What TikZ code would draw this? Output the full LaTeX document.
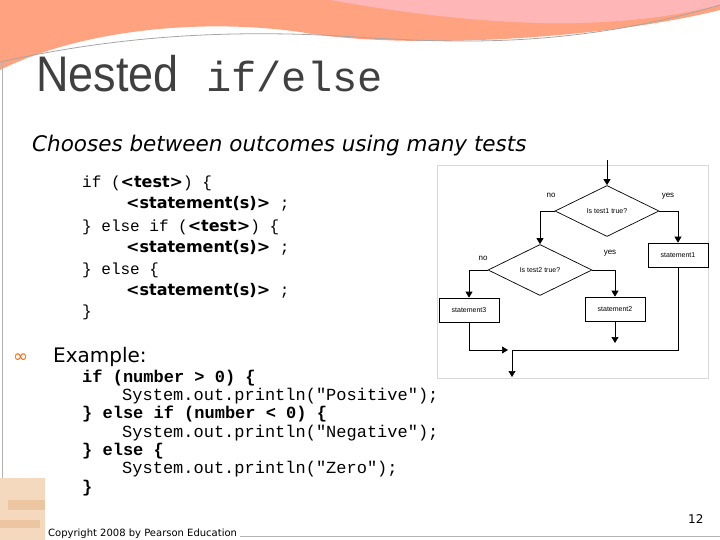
\documentclass[tikz,border=0pt]{standalone}
\usepackage{fontspec}
\setmainfont{DejaVu Sans}
\setmonofont{Liberation Mono}
\newfontfamily\cond{Liberation Sans}[FakeStretch=0.9]
\newfontfamily\ar{Liberation Sans}
\newfontfamily\dv{DejaVu Sans}
\usetikzlibrary{arrows.meta,shapes.geometric}
\definecolor{ttl}{HTML}{404040}
\tikzset{
 fc/.style={line width=0.7pt,-{Triangle[length=6pt,width=7pt]}},
 fl/.style={line width=0.7pt},
 sbox/.style={draw,line width=0.7pt,minimum width=60pt,minimum height=24pt,inner sep=0pt,font=\ar\fontsize{7}{8}\selectfont},
 dia/.style={draw,diamond,aspect=2.05,line width=0.7pt,minimum width=104pt,minimum height=51pt,inner sep=0pt,font=\ar\fontsize{7}{8}\selectfont},
 lab/.style={font=\ar\fontsize{8}{9}\selectfont,inner sep=0pt},
 code/.style={anchor=base west,inner sep=0pt,font=\ttfamily\fontsize{16}{16}\selectfont},
 ecode/.style={anchor=base west,inner sep=0pt,font=\ttfamily\fontsize{17}{17}\selectfont},
}
\newcommand\kw[1]{{\dv\bfseries\fontsize{16}{16}\selectfont #1}}
\begin{document}
\begin{tikzpicture}[x=1pt,y=-1pt]
\useasboundingbox (0,0) rectangle (720,540);
\fill[white] (0,0) rectangle (720,540);
% top decoration
\fill[red!45!orange!50!white] (0,0) -- (720,0) -- (720,10) .. controls (600,40) and (400,50) .. (300,32) .. controls (200,18) and (80,30) .. (0,70) -- cycle;
\fill[red!30!pink!60!white] (330,0) -- (720,0) -- (720,5) .. controls (620,30) and (500,30) .. (330,0) -- cycle;
\draw[gray!70,line width=0.8pt] (0,62) .. controls (100,40) and (200,30) .. (320,35) .. controls (420,40) and (550,55) .. (720,5);
\draw[gray!60] (2,62) -- (2,505);
\draw[gray!60] (240,536) -- (720,536);
% bricks
\fill[orange!40!brown!30!white] (0,478) rectangle (45,540);
\fill[orange!30!brown!45!white] (8,500) rectangle (45,510);
\fill[orange!30!brown!45!white] (0,520) rectangle (40,528);
% title
\node[anchor=base west,inner sep=0pt,text=ttl] (t1) at (36,92) {\cond\fontsize{50}{50}\selectfont Nested};
\node[anchor=base west,inner sep=0pt,text=ttl] (t2) at (206,92) {\ttfamily\fontsize{42}{44}\selectfont if/else};
\node[anchor=base west,inner sep=0pt] (sub) at (32,152) {\fontsize{21.5}{22}\selectfont\itshape Chooses between outcomes using many tests};
% syntax
\node[code] (s1) at (82,188) {if (\kw{<test>}) \{};
\node[code] (s2) at (126,209) {\kw{<statement(s)>} ;};
\node[code] (s3) at (82,231) {\} else if (\kw{<test>}) \{};
\node[code] (s4) at (126,252) {\kw{<statement(s)>} ;};
\node[code] (s5) at (82,274) {\} else \{};
\node[code] (s6) at (126,295) {\kw{<statement(s)>} ;};
\node[code] (s7) at (82,316) {\}};
% example
\node[anchor=base west,inner sep=0pt,text=orange!80!red] (bul) at (13,362) {\dv\fontsize{18}{18}\selectfont ∞};
\node[anchor=base west,inner sep=0pt] (ex) at (53,362) {\fontsize{20}{22}\selectfont Example:};
\node[ecode] (e1) at (82,382) {\bfseries if (number > 0) \{};
\node[ecode] (e2) at (122,400) {System.out.println("Positive");};
\node[ecode] (e3) at (82,418) {\bfseries \} else if (number < 0) \{};
\node[ecode] (e4) at (122,437) {System.out.println("Negative");};
\node[ecode] (e5) at (82,455) {\bfseries \} else \{};
\node[ecode] (e6) at (122,473) {System.out.println("Zero");};
\node[ecode] (e7) at (82,492) {\bfseries \}};
\node[anchor=base west,inner sep=0pt] (cp) at (48,536) {\fontsize{10}{10}\selectfont Copyright 2008 by Pearson Education};
\node[anchor=base west,inner sep=0pt] (pg) at (688,523) {\fontsize{12}{12}\selectfont 12};
% flowchart
\draw[gray!30] (437,165) rectangle (708,378);
\coordinate (in) at (607,160);
\node[dia] (d1) at (607,211) {Is test1 true?};
\node[dia] (d2) at (540,270) {Is test2 true?};
\node[sbox] (st1) at (678,255) {statement1};
\node[sbox] (st2) at (615,309) {statement2};
\node[sbox] (st3) at (469,310) {statement3};
\coordinate (j) at (512,350);
\coordinate (out) at (512,377);
\coordinate (st2o) at (615,343);
\draw[fc] (in) -- (d1.north);
\draw[fc] (d1.west) -| (d2.north);
\draw[fc] (d1.east) -| (st1.north);
\draw[fc] (d2.west) -| (st3.north);
\draw[fc] (d2.east) -| (st2.north);
\draw[fc] (st2.south) -- (st2o);
\draw[fc] (st3.south) |- (508,350);
\draw[fl] (st1.south) |- (j);
\draw[fc] (j) -- (out);
\node[lab] (n1) at (551,195) {no};
\node[lab] (y1) at (668,196) {yes};
\node[lab] (n2) at (483,258) {no};
\node[lab] (y2) at (610,253) {yes};
\end{tikzpicture}
\end{document}
